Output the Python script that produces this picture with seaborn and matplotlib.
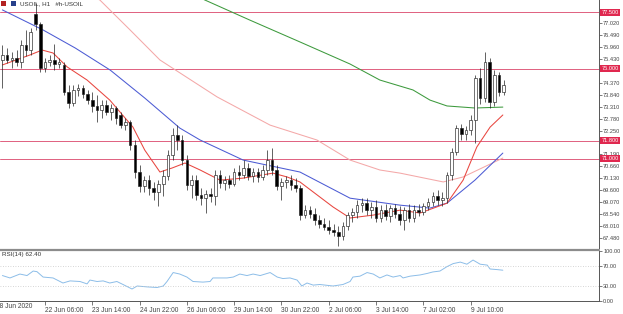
import numpy as np
import pandas as pd
import matplotlib
matplotlib.use("Agg")
import matplotlib.pyplot as plt
from matplotlib.patches import Rectangle
import seaborn as sns

# USOIL candles (one entry per bar)
opens = [75.38, 75.60, 75.38, 75.47, 75.29, 76.04, 75.82, 77.42, 76.98, 75.02,
         75.29, 75.38, 75.20, 75.16, 73.96, 73.47, 74.05, 74.14, 73.87, 73.60,
         73.34, 73.16, 73.38, 73.07, 73.25, 72.94, 72.49, 72.63, 71.61, 70.41,
         69.79, 70.05, 69.70, 69.52, 69.88, 70.23, 71.16, 72.05, 71.83, 70.94,
         69.83, 70.05, 69.39, 69.25, 69.43, 69.34, 70.28, 69.92, 70.05, 69.88,
         70.41, 70.28, 70.59, 70.23, 70.41, 70.19, 70.50, 70.94, 70.50, 69.79,
         69.97, 70.05, 69.83, 69.70, 68.50, 68.72, 68.54, 68.28, 68.10, 67.97,
         67.83, 67.75, 67.57, 68.01, 68.50, 68.63, 68.94, 69.03, 68.72, 68.86,
         68.37, 68.72, 68.46, 68.81, 68.54, 68.28, 68.72, 68.37, 68.72, 68.63,
         68.90, 69.08, 69.34, 69.17, 69.25, 70.28, 71.30, 72.36, 72.09, 72.27,
         72.72, 74.58, 73.69, 75.29, 73.51, 74.71, 73.96]
highs = [76.04, 75.91, 75.73, 75.82, 76.27, 76.71, 76.80, 77.91, 77.06, 75.47,
         75.60, 76.09, 75.47, 75.29, 74.27, 74.27, 74.31, 74.27, 74.05, 73.96,
         73.82, 73.60, 73.60, 73.43, 73.34, 73.07, 72.80, 72.72, 71.83, 70.72,
         70.23, 70.28, 69.97, 70.05, 70.50, 71.38, 72.36, 72.49, 72.05, 71.16,
         70.28, 70.28, 69.70, 69.61, 69.70, 70.50, 70.50, 70.23, 70.28, 70.59,
         70.72, 70.94, 70.81, 70.59, 70.59, 70.72, 71.38, 71.47, 70.72, 70.14,
         70.23, 70.28, 70.14, 69.83, 68.94, 68.90, 68.81, 68.50, 68.37, 68.28,
         68.10, 68.01, 68.19, 68.63, 68.81, 69.17, 69.25, 69.25, 69.08, 69.17,
         68.94, 68.99, 68.94, 68.99, 68.90, 68.86, 68.99, 68.94, 68.99, 69.03,
         69.25, 69.52, 69.61, 69.52, 70.41, 71.47, 72.49, 72.54, 72.45, 72.94,
         74.71, 75.02, 75.73, 75.47, 74.93, 74.85, 74.49]
lows = [74.14, 75.25, 75.02, 75.11, 75.02, 75.56, 75.60, 76.71, 74.85, 74.85,
        75.11, 74.93, 75.02, 73.82, 73.25, 73.34, 73.78, 73.69, 73.43, 73.07,
        72.63, 72.80, 72.94, 72.72, 72.54, 72.36, 72.27, 71.38, 70.14, 69.52,
        69.52, 69.39, 69.17, 68.90, 69.34, 70.05, 70.94, 71.38, 70.72, 69.61,
        69.25, 69.17, 68.94, 68.59, 69.08, 68.94, 69.70, 69.61, 69.70, 69.79,
        70.05, 70.14, 70.05, 69.97, 69.97, 70.05, 70.28, 70.28, 69.61, 69.17,
        69.70, 69.61, 69.52, 68.28, 68.37, 68.37, 68.06, 67.92, 67.83, 67.66,
        67.57, 67.13, 67.39, 67.83, 68.19, 68.37, 68.63, 68.50, 68.37, 68.19,
        68.19, 68.28, 68.19, 68.37, 68.06, 67.83, 68.19, 68.19, 68.46, 68.50,
        68.72, 68.90, 68.94, 68.90, 69.03, 70.05, 71.16, 71.83, 71.83, 72.05,
        71.69, 73.43, 73.51, 73.25, 73.34, 73.78, 73.82]
closes = [75.60, 75.38, 75.47, 75.29, 76.04, 75.82, 76.62, 76.98, 75.02, 75.29,
          75.38, 75.20, 75.29, 73.96, 73.47, 74.05, 74.14, 73.87, 73.60, 73.34,
          73.16, 73.38, 73.07, 73.25, 72.80, 72.49, 72.63, 71.61, 70.41, 69.79,
          70.05, 69.70, 69.52, 69.88, 70.23, 71.16, 72.05, 71.83, 70.94, 69.83,
          70.05, 69.39, 69.25, 69.43, 69.34, 70.28, 69.92, 70.05, 69.88, 70.41,
          70.28, 70.59, 70.23, 70.41, 70.19, 70.50, 70.94, 70.50, 69.79, 69.97,
          70.05, 69.83, 69.70, 68.50, 68.72, 68.54, 68.28, 68.10, 67.97, 67.83,
          67.75, 67.57, 68.01, 68.50, 68.63, 68.94, 69.03, 68.72, 68.86, 68.37,
          68.72, 68.46, 68.81, 68.54, 68.28, 68.72, 68.37, 68.72, 68.63, 68.90,
          69.08, 69.34, 69.17, 69.25, 70.28, 71.30, 72.36, 72.09, 72.27, 72.72,
          74.58, 73.69, 75.29, 73.51, 74.71, 73.96, 74.27]

# moving averages, read at a few bars each
ma_fast_x = [0, 5.8, 8.4, 10.7, 13.7, 17.9, 22.7, 27.6, 30.1, 33.3, 35.9, 38.6, 41.8,
             46.0, 50.9, 57.2, 60.2, 62.9, 69.9, 73.5, 78.4, 84.1, 88.3, 94.0, 97.4,
             100.3, 103.1, 105.8]
ma_fast_y = [75.16, 75.60, 75.82, 75.69, 75.07, 74.49, 73.60, 72.40, 71.38, 70.41, 70.59,
             70.81, 70.50, 70.05, 70.14, 70.36, 70.19, 69.97, 68.86, 68.37, 68.50, 68.72,
             68.59, 69.03, 70.05, 71.52, 72.40, 72.94]
ma_mid_x = [0, 8.6, 15.4, 22.8, 30.1, 37.5, 41.8, 50.9, 62.9, 73.5, 84.1, 90.4, 94.0,
            99.9, 105.8]
ma_mid_y = [77.60, 76.71, 75.91, 74.93, 73.69, 72.36, 71.83, 70.94, 70.41, 69.25, 68.94,
            68.81, 69.03, 70.05, 71.25]
ma_slow_x = [18.5, 20.6, 27.0, 33.3, 45.4, 56.6, 66.5, 73.5, 79.8, 84.1, 93.2, 97.4, 105.8]
ma_slow_y = [78.26, 78.04, 76.71, 75.38, 73.74, 72.49, 71.83, 70.94, 70.50, 70.36, 69.97,
             70.19, 71.03]
ma_long_x = [40.7, 42.8, 52.3, 62.9, 73.5, 79.8, 86.8, 90.4, 94.0, 99.9, 105.8]
ma_long_y = [78.26, 78.04, 77.15, 76.18, 75.20, 74.49, 74.05, 73.60, 73.34, 73.25, 73.29]

# RSI(14)
rsi_x = [0, 1.6, 3.7, 5.2, 6.5, 7.3, 8.6, 10.7, 12.8, 14.3, 16.4, 17.9, 18.5, 20.0, 21.3,
         22.7, 24.2, 25.5, 27.4, 28.5, 30.6, 32.7, 34.0, 34.8, 36.1, 37.5, 39.0, 40.3,
         42.4, 43.9, 44.5, 47.5, 48.8, 50.2, 51.7, 53.0, 54.5, 56.6, 58.1, 59.3, 60.8,
         62.3, 63.3, 64.4, 65.7, 67.1, 69.9, 72.0, 73.5, 74.1, 75.6, 77.1, 78.4, 79.8,
         81.3, 82.6, 84.1, 84.7, 86.2, 88.3, 89.8, 91.0, 92.5, 94.0, 95.3, 96.8, 98.2,
         99.5, 101.0, 102.5, 103.1, 104.6, 105.8]
rsi_y = [50.9, 46.1, 53.9, 50.9, 59.9, 58.7, 47.9, 46.1, 36.0, 40.2, 39.0, 34.2, 41.9,
         39.0, 40.2, 36.0, 39.0, 33.0, 24.0, 30.0, 28.2, 27.0, 30.0, 39.0, 56.9, 53.9,
         47.9, 39.0, 37.8, 39.0, 46.1, 46.1, 47.9, 53.9, 50.9, 53.9, 50.9, 56.9, 47.9,
         44.9, 46.1, 41.9, 30.0, 36.0, 31.8, 33.0, 30.0, 33.0, 39.0, 47.9, 49.7, 56.9,
         53.9, 46.1, 52.1, 47.9, 50.9, 46.1, 49.7, 52.1, 55.1, 58.1, 59.9, 68.8, 74.8,
         77.8, 73.6, 81.9, 73.6, 71.8, 64.0, 62.8, 61.6]

levels = [77.50, 75.00, 71.80, 71.00]
level_labels = ["77.500", "75.000", "71.800", "71.000"]
price_ticks = [67.48, 68.01, 68.54, 69.07, 69.60, 70.13, 70.66, 71.19, 72.25,
               72.78, 73.31, 73.84, 74.37, 75.43, 75.96, 76.49, 77.02]
time_tick_bars = [9, 19, 29, 39, 49, 59, 69, 79, 89, 99]
time_labels = ["22 Jun 06:00", "23 Jun 14:00", "24 Jun 22:00", "26 Jun 06:00",
               "29 Jun 14:00", "30 Jun 22:00", "2 Jul 06:00", "3 Jul 14:00",
               "7 Jul 02:00", "9 Jul 10:00"]

sns.set_style("white")
plt.rcParams["font.family"] = ["Liberation Sans", "DejaVu Sans"]

W, H = 623, 314
RIGHT = 599
fig = plt.figure(figsize=(W / 100, H / 100), dpi=100)
ax = fig.add_axes([0, (H - 248) / H, RIGHT / W, 248 / H])
ax_rsi = fig.add_axes([0, (H - 301) / H, RIGHT / W, 50 / H])

df = pd.DataFrame({"open": opens, "high": highs, "low": lows, "close": closes})
df["bar"] = np.arange(len(df))
up = df["close"] >= df["open"]
bottoms = df[["open", "close"]].min(axis=1)
heights = (df["close"] - df["open"]).abs().clip(lower=0.02)

ax.vlines(df["bar"], df["low"], df["high"], color="#222222", lw=0.5, zorder=3)
ax.bar(df["bar"], heights, bottom=bottoms, width=0.55,
       color=np.where(up, "white", "black"), edgecolor="#222222", linewidth=0.45, zorder=4)

for xs, ys, col in [(ma_long_x, ma_long_y, "#3d9a3d"),
                    (ma_slow_x, ma_slow_y, "#f4a8a8"),
                    (ma_mid_x, ma_mid_y, "#4c5bd4"),
                    (ma_fast_x, ma_fast_y, "#e8463f")]:
    sns.lineplot(x=xs, y=ys, ax=ax, color=col, lw=0.75, sort=False, estimator=None, zorder=2)

for lv in levels:
    ax.axhline(lv, color="#e0607e", lw=0.7, zorder=1)

xmin, xmax = -0.51, (RIGHT - 2.4) / 4.73
ax.set_xlim(xmin, xmax)
ax.set_ylim(67.04, 78.04)
ax.set_xticks([])
ax.yaxis.tick_right()
ax.set_yticks(price_ticks)
ax.set_yticklabels([f"{v:.3f}" for v in price_ticks])
ax.tick_params(axis="y", labelsize=4.1, length=2, width=0.5, pad=1,
               colors="#444444", right=True)
for s in ["top", "left", "bottom"]:
    ax.spines[s].set_visible(False)
ax.spines["right"].set_color("#555555")
ax.spines["right"].set_linewidth(0.7)

for lv, txt in zip(levels, level_labels):
    ax.text(1.004, lv, txt, transform=ax.get_yaxis_transform(), fontsize=4.1,
            color="white", va="center", ha="left", clip_on=False, zorder=10,
            bbox=dict(boxstyle="square,pad=0.2", fc="#e0284f", ec="none"))

# RSI panel
sns.lineplot(x=rsi_x, y=rsi_y, ax=ax_rsi, color="#8cbde8", lw=0.7, sort=False, estimator=None)
for lv in [70, 30]:
    ax_rsi.axhline(lv, color="#c8c8c8", lw=0.6, ls=(0, (1, 2)))
ax_rsi.set_xlim(xmin, xmax)
ax_rsi.set_ylim(0, 100)
ax_rsi.yaxis.tick_right()
ax_rsi.set_yticks([100, 70, 30, 0])
ax_rsi.set_yticklabels(["100.00", "70.00", "30.00", "0.00"])
ax_rsi.tick_params(axis="y", labelsize=4.1, length=2, width=0.5, pad=1,
                   colors="#444444", right=True)
ax_rsi.set_xticks(time_tick_bars)
ax_rsi.set_xticklabels(time_labels, ha="left")
ax_rsi.tick_params(axis="x", labelsize=4.8, length=3, width=0.5, pad=1,
                   colors="#444444", bottom=True)
for s in ["top", "left"]:
    ax_rsi.spines[s].set_visible(False)
for s in ["right", "bottom"]:
    ax_rsi.spines[s].set_color("#555555")
    ax_rsi.spines[s].set_linewidth(0.7)
ax_rsi.set_xlabel("")
ax_rsi.set_ylabel("")
ax.set_xlabel("")
ax.set_ylabel("")

ax_rsi.text(0.004, 0.93, "RSI(14) 62.40", transform=ax_rsi.transAxes,
            fontsize=4.5, color="#333333", va="center", ha="left")

# separator between panels
fig.add_artist(plt.Line2D([0, RIGHT / W], [1 - 249.5 / H, 1 - 249.5 / H],
                          transform=fig.transFigure, color="#8c8c8c", lw=1.6))

# header: icons and symbol
fig.add_artist(Rectangle((1 / W, 1 - 6 / H), 5 / W, 5 / H, transform=fig.transFigure,
                         fc="#b22222", ec="none"))
fig.add_artist(Rectangle((11 / W, 1 - 6 / H), 5 / W, 5 / H, transform=fig.transFigure,
                         fc="#27408b", ec="none"))
fig.text(20 / W, 1 - 3.5 / H, "USOIL, H1   #h-USOIL", fontsize=4.5, color="#333333",
         va="center", ha="left")
fig.text(-4 / W, 1 - 307 / H, "18 Jun 2020", fontsize=4.8, color="#444444",
         va="center", ha="left")

fig.savefig("out.png", dpi=100)
